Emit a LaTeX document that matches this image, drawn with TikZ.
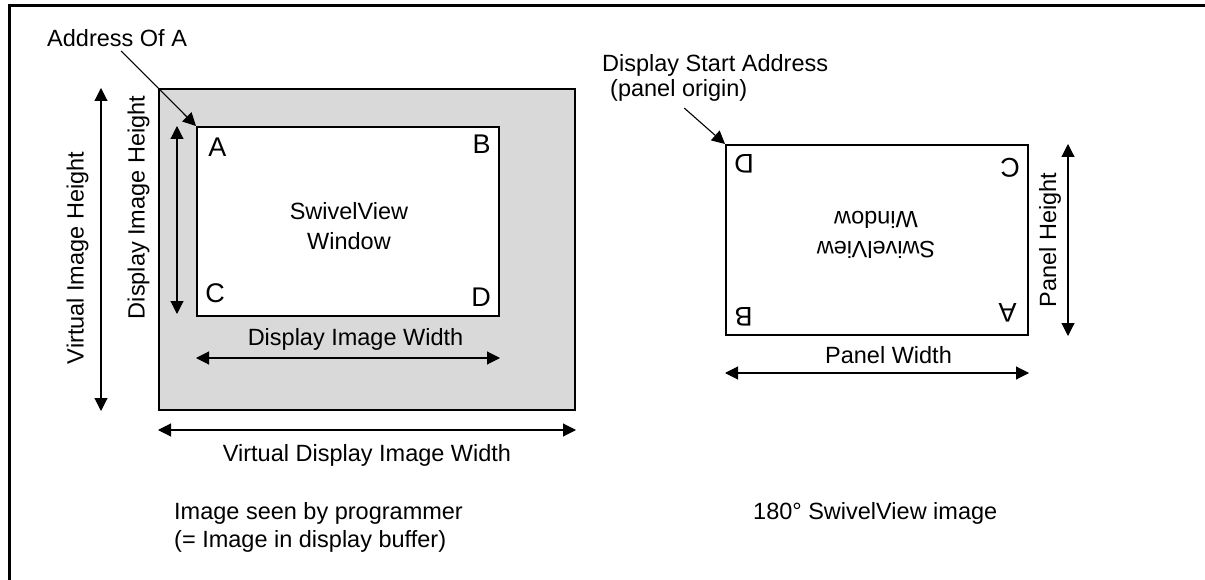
\documentclass[tikz,border=0pt]{standalone}
\usepackage{fontspec}
\setmainfont{Liberation Sans}
\usetikzlibrary{positioning,arrows.meta,calc}

\begin{document}
\begin{tikzpicture}[x=1pt,y=-1pt, >={Triangle[length=13pt,width=13pt]},
  font=\fontsize{23.5}{28}\selectfont,
  area/.style={draw,line width=2pt},
  lbl/.style={inner sep=0pt},
  crn/.style={inner sep=0pt,font=\fontsize{27}{30}\selectfont},
  dim/.style={<->,line width=1.1pt}]
  \useasboundingbox (0,0) rectangle (1205,580);
  \draw[line width=3pt] (9,580) -- (9,5.5) -- (1205,5.5);
  % image seen by programmer
  \node[area,fill=gray!30,minimum width=416pt,minimum height=321pt](virt) at (367,249.5){};
  \node[area,fill=white,minimum width=302pt,minimum height=189pt](win) at (348,221.5){};
  \node[crn](wa) at (217.5,147.5){A};
  \node[crn](wb) at (481.5,144){B};
  \node[crn](wc) at (215,293){C};
  \node[crn](wd) at (481,297.5){D};
  \node[lbl,align=center,font=\fontsize{23.5}{30}\selectfont](wtxt) at (349,226){SwivelView\\Window};
  \node[lbl,anchor=base west](addr) at (47,46.5){Address Of A};
  \draw[->,line width=1.1pt]($(addr.south)+(4,4)$) -- (win.north west);
  \draw[dim]($(win.south west)+(0,41)$) -- ($(win.south east)+(0,41)$);
  \node[lbl,anchor=base](dw) at (355.5,345){Display Image Width};
  \draw[dim]($(win.north west)+(-19,0)$) -- ($(win.south west)+(-19,-3)$);
  \node[lbl,rotate=90](dh) at (138.5,207.5){Display Image Height};
  \draw[dim]($(virt.north west)+(-57,0)$) -- ($(virt.south west)+(-57,0)$);
  \node[lbl,rotate=90](vh) at (77.5,258){Virtual Image Height};
  \draw[dim]($(virt.south west)+(0,19)$) -- ($(virt.south east)+(0,19)$);
  \node[lbl,anchor=base](vw) at (367,461){Virtual Display Image Width};
  % panel, turned by 180 degrees
  \node[area,fill=white,minimum width=302pt,minimum height=190pt](panel) at (877,240){};
  \node[crn,rotate=180](pd) at (744,163.5){D};
  \node[crn,rotate=180](pc) at (1010,167.5){C};
  \node[crn,rotate=180](pb) at (743.5,317){B};
  \node[crn,rotate=180](pa) at (1007.5,313){A};
  \node[lbl,align=center,rotate=180,font=\fontsize{23.5}{30}\selectfont](ptxt) at (876,235){SwivelView\\Window};
  \node[lbl,anchor=base west](dsa) at (602,71.7){Display Start Address};
  \node[lbl,anchor=base west](dsaorg) at (610,97){(panel origin)};
  \draw[->,line width=1.1pt]($(dsaorg.south)+(5.5,6)$) -- (panel.north west);
  \draw[dim]($(panel.south west)+(0,37)$) -- ($(panel.south east)+(0,37)$);
  \node[lbl,anchor=base](pw) at (888.5,363){Panel Width};
  \draw[dim]($(panel.north east)+(39,0)$) -- ($(panel.south east)+(39,0)$);
  \node[lbl,rotate=90](ph) at (1050,240){Panel Height};
  % captions
  \node[lbl,anchor=base west](seen) at (174,519.3){Image seen by programmer};
  \node[lbl,anchor=base west](buf) at (174,547){(= Image in display buffer)};
  \node[lbl,anchor=base west](swiv) at (753,519){180° SwivelView image};
\end{tikzpicture}
\end{document}
